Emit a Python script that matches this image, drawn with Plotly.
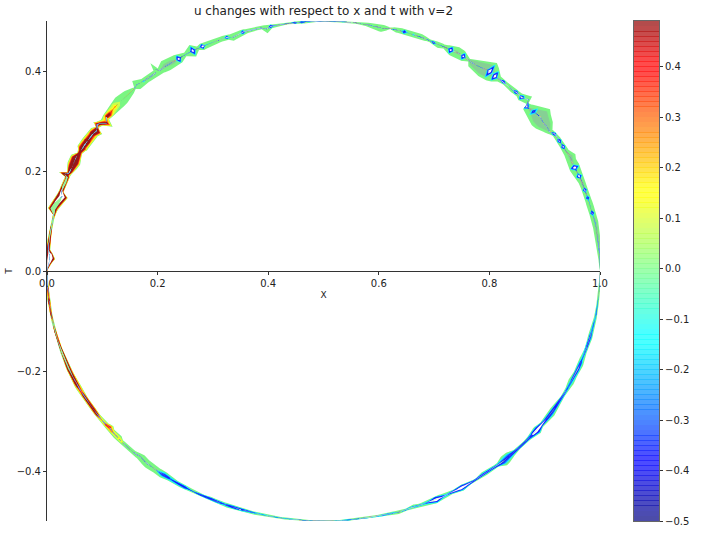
import numpy as np
import plotly.graph_objects as go

TITLE = "u changes with respect to x and t with v=2"

upper_theta = [0,2,5,8,11,13.4,15,17,18.9,20.5,22.3,24.5,26,27.2,28.5,29.8,30.6,31.4,32.3,33.3,34.3,35.5,36.8,38.3,40,41.9,42.2,42.8,44.1,45,45.8,47,48.2,49.3,50.5,51.5,53,55,57.4,58,59.5,61,62.5,64,65.5,66.5,67.5,69,71,73,75,76,77,78,79.5,82,84,86,88.5,90,92,93,94.5,96,98,100,101,102,103,105,107,109.4,110.5,113,116,117,118.2,120,121.7,123,125,126.5,127,127.5,129,130.6,132.3,133,134.5,137,139,141,142,142.9,143.9,144.4,145,145.6,146.7,148.7,150.6,151,152,153,154.5,156,157,157.5,158,160,161.5,162.5,164,165.8,167,170,172,174,175.3,176,177.2,178.5,180]
upper_out = [0,.002,.004,.005,.007,.005,.006,.005,.005,.006,.007,.010,.008,.012,.005,.005,.005,.005,.004,.004,.001,.010,.014,.022,.012,0,.001,.014,.006,.004,.004,.004,.003,.003,.004,.012,.021,.012,.004,0,.008,.011,.008,.003,.004,.002,.002,.006,.006,.006,.005,.001,.004,.004,.004,.002,.002,.002,.001,.001,.001,.002,.002,.002,.001,.002,.003,.003,.003,.002,.005,.002,.004,.005,.007,.004,.013,.004,.009,.010,.012,.004,.020,.005,.006,.006,.014,.002,.008,.012,.010,.006,.006,.003,.006,.012,.002,.008,.009,.010,.011,.007,.004,.012,.012,.008,.004,.018,.004,.005,.004,.006,.010,.014,.002,.002,.002,.004,.004,.002,.004,.002,0]
upper_in = [0,.002,.003,.005,.005,.006,.007,.006,.006,.006,.008,.012,.010,.008,.006,.006,.005,.006,.005,.005,.012,.016,.023,.024,.020,.015,.004,.004,.009,.006,.006,.008,.006,.005,.008,.016,.020,.020,.014,.006,.012,.012,.012,.005,.009,.006,.003,.006,.006,.006,.005,.001,.008,.011,.007,.003,.002,.002,.002,.001,.001,.003,.004,.004,.002,.005,.006,.014,.004,.004,.006,.012,.006,.006,.008,.004,.013,.004,.012,.012,.012,.008,.008,.008,.008,.007,.008,.002,.008,.012,.010,.010,.008,.022,.006,.004,.002,.015,.010,.010,.009,.006,.004,.008,.012,.008,.005,.004,.005,.005,.004,.015,.010,.004,.002,.002,.002,.004,.004,.010,.014,.006,0]
upper_u = [0,0,-.04,-.04,-.04,-.6,-.04,-.55,-.6,-.1,-.65,-.7,-.04,-.04,-.04,-.65,-.04,-.65,-.04,-.65,-.04,-.04,-.04,-.04,-.45,-.7,0,0,-.65,-.04,-.65,-.04,-.04,-.65,-.04,-.7,-.65,-.04,-.04,-.04,-.6,-.04,-.65,-.04,-.04,-.6,0,-.04,-.3,-.55,-.04,0,0,-.04,-.04,0,0,-.55,-.55,0,0,-.55,-.6,-.6,0,-.04,-.6,-.04,0,0,-.6,-.04,-.55,-.04,-.65,-.04,-.65,-.04,-.65,-.04,-.04,-.04,-.04,-.04,-.04,-.28,0,0,0,.05,.15,.3,.2,.15,.35,.3,.2,.36,.42,.46,.44,.36,.38,.45,.48,.48,.47,.3,.47,.6,.55,.8,.9,.7,.55,.55,.55,.52,.48,.6,1,.6,.48]
upper_shade = {5:.5,8:.6,11:.4,20.5:.5,26:.3,27.2:.4,34.3:.3,35.5:.6,36.8:.7,38.3:.7,40:.45,50.5:.3,53:.7,55:.7,57.4:.5,58:.2,61:.3,62.5:.2,123:.4,125:.4,129:.5}
upper_hole = {160:.5,158:.4,164:.45,165.8:.5,167:.4,170:.5,172:.4}

lower_theta = [0,2,5,8,10,12.5,14.9,17,19,21.3,23,24.5,26.3,28.5,30.7,32.5,34.5,36,38,39.5,41,43,45,46.5,48,49.5,51,53,55,56.5,58,60,62,64,66,68,70,71,72.5,74,76,78,79.5,81,83,85,86,87,90,93,94,96,98,100,102,104,106,107.7,109.7,111,112.5,114,115,117,120,122,124,125.4,127,128.3,130,131.6,133,134.7,137,138,140,140.9,142,144.9,146.5,148.2,150,152.9,155,157,159,161,163,166,170,173,176,180]
lower_out = [0,.002,.002,.002,.003,.003,.005,.003,.003,.006,.006,.004,.006,.003,.003,.005,.008,.006,.004,.009,.005,.003,.003,.004,.009,.011,.003,.004,.003,.002,.003,.007,.003,.005,.008,.005,.003,.003,.002,.005,.003,.003,.002,.002,.002,.002,.002,.0008,.0008,.0008,.001,.002,.002,.002,.003,.003,.003,.004,.005,.004,.004,.003,.003,.003,.005,.004,.005,.008,.006,.008,.008,.004,.004,.004,.004,.005,.005,.004,.004,.004,.004,.004,.004,.006,.004,.005,.003,.003,.002,.002,.002,.003,.002,0]
lower_in = [0,.001,.002,.002,.002,.003,.005,.003,.003,.006,.005,.004,.007,.003,.003,.005,.007,.006,.004,.008,.005,.003,.003,.004,.010,.009,.003,.006,.006,.002,.003,.006,.003,.005,.007,.005,.003,.006,.002,.002,.003,.003,.002,.002,.002,.002,.0015,.0008,.0008,.0008,.001,.002,.002,.002,.003,.003,.003,.004,.005,.004,.004,.005,.003,.003,.005,.004,.006,.008,.006,.008,.007,.010,.005,.004,.004,.008,.006,.010,.005,.004,.005,.004,.004,.005,.004,.004,.003,.003,.002,.002,.002,.003,.002,0]
lower_u = [0,0,-.1,-.3,-.4,-.45,-.48,-.48,-.48,-.35,-.45,-.48,-.35,-.48,-.48,-.48,-.49,-.48,-.48,-.7,-.48,-.49,-.49,-.48,-.45,-.35,-.48,-.48,-.4,-.48,-.48,-.8,-.48,-.3,-.75,-.3,-.4,-.2,-.45,-.1,-.45,-.4,-.1,-.4,-.2,-.4,-.45,0,0,0,0,-.45,-.1,-.3,-.2,-.4,-.45,-.48,-.48,-.2,-.48,-.3,-.49,-.49,-.49,-.48,-.3,-.45,-.15,-.2,-.04,0,0,.03,.08,.12,.15,.2,.25,.35,.42,.45,.45,.48,.48,.5,.6,.6,.55,.6,.55,.48,.48,.48]
lower_shade = {14.9:.2,21.3:.5,23:.3,26.3:.5,48:.6,49.5:.7,125.4:.3}
lower_hole = {159:.4,161:.4,166:.5,157:.2}

pos_levels = [.05,.10,.14,.19,.25,.5]
pos_values = [.08,.14,.24,.38,.49,None]
neg_levels = [.2,.26,.3,.34,.38,.5]
neg_values = [-.14,-.2,-.27,-.34,-.39,None]

cbar_levels = np.linspace(-.5, .491, 100)
cbar_ticks = [-.5,-.4,-.3,-.2,-.1,0,.1,.2,.3,.4]
x_ticks = [0,.2,.4,.6,.8,1]
y_ticks = [-.4,-.2,0,.2,.4]

JET = [[0,(0,0,127)],[.11,(0,0,255)],[.125,(0,0,255)],[.35,(0,255,255)],[.375,(0,255,255)],[.64,(255,255,0)],[.66,(255,255,0)],[.89,(255,0,0)],[.91,(255,0,0)],[1,(127,0,0)]]
jet_scale = [[p, "rgb(%d,%d,%d)" % c] for p, c in JET]

def jet_css(v, a=.91):
    t = min(max((v + .5), 0), 1)
    stops = [p for p, _ in JET]
    rgb = [float(np.interp(t, stops, [c[i] for _, c in JET])) for i in range(3)]
    return "rgb(%d,%d,%d)" % tuple(round(255 * (1 - a) + k * a) for k in rgb)

def refine(theta, out, inn, u, shade, hole, reach_neg, reach_pos, n=6):
    rows = []
    for i in range(len(theta) - 1):
        a, b = theta[i], theta[i + 1]
        d = b - a
        lo, hi = min(u[i], u[i + 1], 0), max(u[i], u[i + 1], 0)
        for k in range(n):
            t = k / n
            pa = max(0, 1 - t * d / (reach_pos if u[i] > 0 else reach_neg))
            pb = max(0, 1 - (1 - t) * d / (reach_pos if u[i + 1] > 0 else reach_neg))
            rows.append((a + t * d, out[i] + t * (out[i + 1] - out[i]), inn[i] + t * (inn[i + 1] - inn[i]),
                         float(np.clip(u[i] * pa + u[i + 1] * pb, lo, hi)),
                         shade.get(a, 0) * (1 - t) + shade.get(b, 0) * t,
                         hole.get(a, 0) * (1 - t) + hole.get(b, 0) * t))
    rows.append((theta[-1], out[-1], inn[-1], u[-1], shade.get(theta[-1], 0), hole.get(theta[-1], 0)))
    return [np.array(c, float) for c in zip(*rows)]

def outline(theta, out, inn, frac, sign):
    th = np.radians(theta)
    mid = .5 + (out - inn) / 2
    half = (out + inn) / 2 * frac
    r = np.r_[mid + half, (mid - half)[::-1]]
    t = np.r_[th, th[::-1]]
    return .5 + r * np.cos(t), sign * r * np.sin(t)

traces = []
def add_fill(x, y, color):
    traces.append(go.Scatter(x=x, y=y, mode="lines", fill="toself", fillcolor=color,
                             line=dict(width=0, color=color), hoverinfo="skip", showlegend=False))

def draw_arc(theta, out, inn, u, shade, hole, sign, reach_neg, reach_pos):
    th, o, i, v, s, h = refine(theta, out, inn, u, shade, hole, reach_neg, reach_pos)
    add_fill(*outline(th, o, i, np.ones(len(th)), sign), "rgb(122,246,130)")
    add_fill(*outline(th, o, i, s, sign), "rgb(134,208,148)")
    for lv, val in zip(pos_levels, pos_values):
        f = np.clip(1 - lv / np.maximum(v, 1e-6), 0, 1) ** .7
        if val is None:
            f = f * .9
        add_fill(*outline(th, o, i, f, sign), jet_css(val) if val is not None else "white")
    for lv, val in zip(neg_levels, neg_values):
        f = np.clip((1 - lv / np.maximum(-v, 1e-6)) * 1.2, 0, 1)
        add_fill(*outline(th, o, i, f, sign), jet_css(val) if val is not None else "white")
    add_fill(*outline(th, o, i, h, sign), "rgb(150,245,150)")

draw_arc(upper_theta, upper_out, upper_in, upper_u, upper_shade, upper_hole, 1, .8, 1.6)
draw_arc(lower_theta, lower_out, lower_in, lower_u, lower_shade, lower_hole, -1, 2.0, 2.0)

mid = (cbar_levels[:-1] + cbar_levels[1:]) / 2
cbar = go.Heatmap(x=[0, 1], y=cbar_levels, z=[[m] for m in mid], colorscale=jet_scale, zmin=-.5, zmax=.5,
                  opacity=.7, showscale=False, hoverinfo="skip", xaxis="x2", yaxis="y2")
sep_y, sep_z = [], []
for m in cbar_levels[1:-1]:
    sep_y += [m - .0008, m + .0008]
    sep_z += [[m], [None]]
sep = go.Heatmap(x=[0, 1], y=sep_y + [cbar_levels[-1]], z=sep_z, colorscale=jet_scale, zmin=-.5, zmax=.5,
                 opacity=.45, showscale=False, hoverinfo="skip", xaxis="x2", yaxis="y2")

fig = go.Figure(traces + [cbar, sep])
W, H = 707, 534
FONT = "DejaVu Sans"
fig.update_layout(
    template="none",
    width=W, height=H, autosize=False, margin=dict(l=0, r=0, t=0, b=0, pad=0),
    paper_bgcolor="white", plot_bgcolor="white", showlegend=False,
    font=dict(family=FONT, size=10, color="#222"),
    title=dict(text=TITLE, x=323.5 / W, y=1 - 11 / H, xanchor="center", yanchor="middle",
               font=dict(family=FONT, size=12, color="#222")),
    xaxis=dict(domain=[47 / W, 600 / W], range=[0, 1], anchor="free", position=(H - 271) / H,
               showline=True, linecolor="#333", linewidth=1, ticks="outside", ticklen=3, tickwidth=1,
               tickcolor="#333", tickvals=x_ticks, tickformat=".1f", showgrid=False, zeroline=False,
               automargin=False, title=dict(text="X", standoff=3, font=dict(size=9))),
    yaxis=dict(domain=[13 / H, 513 / H], range=[-.5, .5], anchor="x", automargin=False,
               showline=True, linecolor="#333", linewidth=1, ticks="outside", ticklen=3, tickwidth=1,
               tickcolor="#333", tickvals=y_ticks, tickformat=".1f", showgrid=False, zeroline=False,
               title=dict(text="T", standoff=2, font=dict(size=9))),
    xaxis2=dict(domain=[634 / W, 659 / W], range=[0, 1], anchor="y2", showticklabels=False, ticks="",
                showgrid=False, zeroline=False, showline=True, mirror=True, linecolor="#666", linewidth=1,
                automargin=False),
    yaxis2=dict(domain=[13 / H, 513 / H], range=[-.5, .491], anchor="x2", side="right", tickvals=cbar_ticks,
                tickformat=".1f", ticks="outside", ticklen=3, tickwidth=1, tickcolor="#333", showgrid=False,
                zeroline=False, showline=True, mirror=True, linecolor="#666", linewidth=1, automargin=False),
)
fig.write_html("out.html", config=dict(displayModeBar=False),
               post_script="document.body.style.margin='0';document.body.style.overflow='hidden';")
